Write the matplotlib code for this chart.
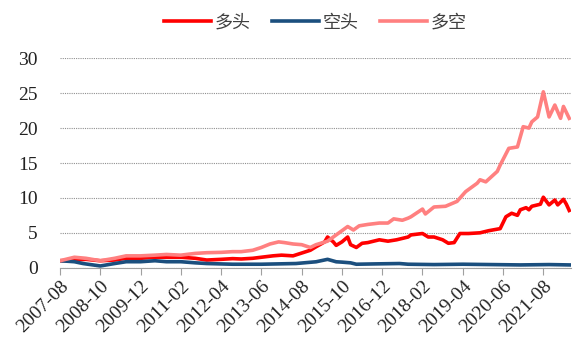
import numpy as np
import matplotlib
matplotlib.use("Agg")
import matplotlib.pyplot as plt

plt.rcParams['font.family'] = ['Liberation Serif', 'Noto Sans CJK SC']

# 月份序号 (0 = 2007-08)
tick_labels = ['2007-08', '2008-10', '2009-12', '2011-02', '2012-04', '2013-06', '2014-08',
               '2015-10', '2016-12', '2018-02', '2019-04', '2020-06', '2021-08']

# 多头
long_m = [0, 5, 9, 14, 19, 23, 28, 33, 37, 42, 47, 51, 56, 60, 63, 67, 70, 74, 77, 81, 84, 87,
          89, 92, 93, 95, 96, 98, 100, 101, 103, 105, 107, 111, 114, 117, 119, 121, 122, 126,
          128, 130, 133, 135, 137, 139, 142, 146, 149, 153, 155, 157, 159, 160, 162, 163, 164,
          167, 168, 170, 172, 173, 175, 176, 177]
long_v = [1.0, 1.1, 1.2, 1.0, 1.1, 1.35, 1.35, 1.5, 1.5, 1.5, 1.35, 1.1, 1.2, 1.3, 1.25, 1.35,
          1.5, 1.7, 1.8, 1.7, 2.1, 2.5, 3.0, 3.7, 4.4, 3.7, 3.2, 3.7, 4.4, 3.3, 2.9, 3.5, 3.6,
          4.0, 3.8, 4.0, 4.2, 4.4, 4.7, 4.9, 4.4, 4.4, 4.0, 3.5, 3.6, 4.9, 4.9, 5.0, 5.3, 5.6,
          7.3, 7.8, 7.5, 8.3, 8.6, 8.3, 8.8, 9.1, 10.1, 9.0, 9.7, 9.0, 9.8, 9.1, 8.2]

# 空头
short_m = [0, 5, 8, 14, 19, 23, 28, 33, 37, 42, 47, 51, 60, 70, 82, 89, 93, 96, 98, 101, 103,
           110, 118, 121, 130, 140, 150, 160, 170, 177]
short_v = [1.0, 0.86, 0.6, 0.25, 0.6, 0.86, 0.86, 1.0, 0.86, 0.86, 0.7, 0.6, 0.5, 0.5, 0.6,
           0.85, 1.2, 0.85, 0.8, 0.7, 0.5, 0.55, 0.6, 0.5, 0.45, 0.5, 0.45, 0.4, 0.45, 0.4]

# 多空
ls_m = [0, 5, 9, 14, 19, 23, 28, 33, 37, 42, 47, 51, 56, 60, 63, 67, 70, 73, 76, 78, 81, 84,
        87, 89, 93, 95, 98, 100, 102, 104, 107, 111, 114, 116, 119, 121, 122, 126, 127, 130,
        134, 138, 141, 145, 146, 148, 152, 153, 156, 159, 161, 163, 164, 166, 168, 170, 172,
        174, 175, 177]
ls_v = [1.0, 1.5, 1.35, 1.0, 1.35, 1.7, 1.7, 1.8, 1.9, 1.8, 2.05, 2.15, 2.2, 2.3, 2.3, 2.5,
        2.9, 3.4, 3.7, 3.6, 3.4, 3.3, 2.9, 3.3, 3.8, 4.4, 5.3, 5.9, 5.4, 6.0, 6.2, 6.4, 6.4,
        7.0, 6.8, 7.1, 7.3, 8.4, 7.7, 8.7, 8.8, 9.5, 10.9, 12.1, 12.6, 12.3, 13.8, 14.7, 17.1,
        17.3, 20.2, 20.0, 20.9, 21.6, 25.2, 21.6, 23.3, 21.4, 23.1, 21.4]

fig = plt.figure(figsize=(5.79, 3.48), dpi=100)
ax = fig.add_axes([0.1036, 0.2307, 0.882, 0.6018])

ax.plot(long_m, long_v, color='#FF0000', lw=2.6, label='多头')
ax.plot(short_m, short_v, color='#1B4F7E', lw=2.6, label='空头')
ax.plot(ls_m, ls_v, color='#FF8080', lw=2.6, label='多空')

ax.set_xlim(0, 177.5)
ax.set_ylim(0, 30)
ax.set_yticks(range(0, 31, 5))
ax.set_xticks(np.arange(len(tick_labels)) * 14)
ax.set_xticklabels(tick_labels, rotation=45, ha='right', rotation_mode='anchor')

for s in ['top', 'right', 'left']:
    ax.spines[s].set_visible(False)
ax.spines['bottom'].set_color('#A0A0A0')
ax.tick_params(axis='x', colors='#A0A0A0', length=5, labelsize=14, labelcolor='#222222', pad=2)
ax.tick_params(axis='y', length=0, labelsize=14, labelcolor='#222222', pad=16)
ax.yaxis.grid(True, ls=(0, (1, 1)), color='#909090', lw=0.8)
ax.set_axisbelow(True)

leg = ax.legend(loc='upper center', bbox_to_anchor=(0.5, 1.29), ncol=3, frameon=False,
                handlelength=2.6, columnspacing=1.2, handletextpad=0.2,
                prop={'family': ['Noto Sans CJK SC'], 'size': 13})
for t in leg.get_texts():
    t.set_color('#404040')

fig.savefig('out.png', dpi=100)
